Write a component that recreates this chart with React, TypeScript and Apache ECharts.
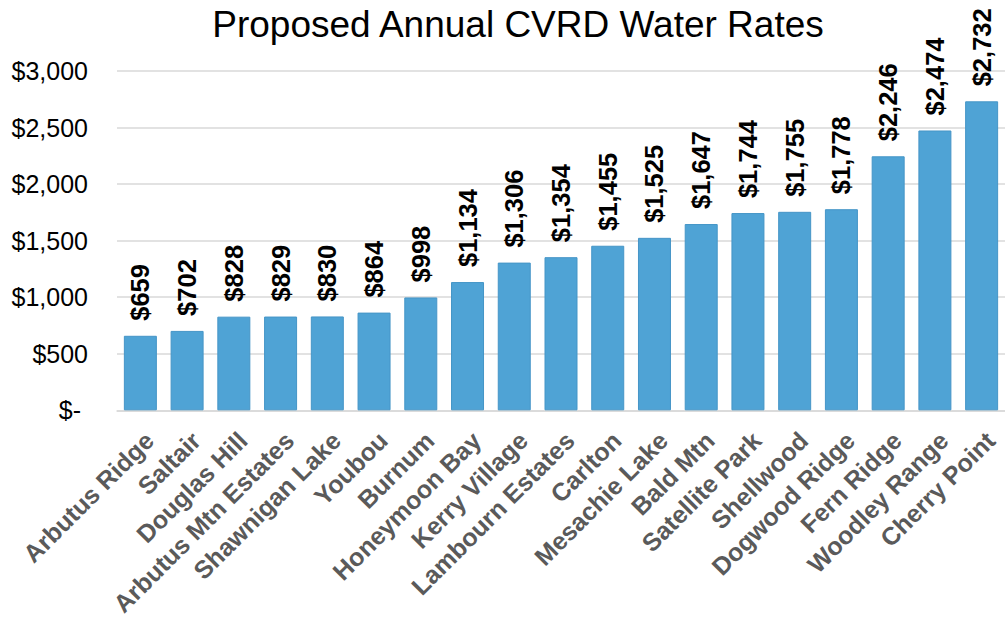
import React, { useEffect, useRef } from "react";
import * as echarts from "echarts";

const titleText = "Proposed Annual CVRD Water Rates";
const categories = [
  "Arbutus Ridge",
  "Saltair",
  "Douglas Hill",
  "Arbutus Mtn Estates",
  "Shawnigan Lake",
  "Youbou",
  "Burnum",
  "Honeymoon Bay",
  "Kerry Village",
  "Lambourn Estates",
  "Carlton",
  "Mesachie Lake",
  "Bald Mtn",
  "Satellite Park",
  "Shellwood",
  "Dogwood Ridge",
  "Fern Ridge",
  "Woodley Range",
  "Cherry Point",
];
const rates = [659, 702, 828, 829, 830, 864, 998, 1134, 1306, 1354, 1455, 1525, 1647, 1744, 1755, 1778, 2246, 2474, 2732];
const yMin = 0;
const yMax = 3000;
const yStep = 500;

const FONT = "'Liberation Sans', Arial, Helvetica, sans-serif";

const money = (v: number) => (v === 0 ? "$-\u00a0" : "$" + v.toLocaleString("en-US"));

export default function App() {
  const ref = useRef<HTMLDivElement>(null);
  useEffect(() => {
    if (!ref.current) return;
    const chart = echarts.init(ref.current, null, { renderer: "svg" });
    chart.setOption({
      animation: false,
      backgroundColor: "#ffffff",
      title: {
        text: titleText,
        left: 513,
        textAlign: "center",
        top: 1,
        textStyle: { fontFamily: FONT, fontSize: 37, fontWeight: "normal", color: "#000" },
      },
      grid: { left: 117, right: -6, top: 71, bottom: 208, containLabel: false },
      xAxis: {
        type: "category",
        data: categories,
        axisTick: { show: false },
        axisLine: { lineStyle: { color: "#d9d9d9", width: 1.5 } },
        axisLabel: {
          interval: 0,
          rotate: 45,
          margin: 17,
          verticalAlign: "top",
          fontFamily: FONT,
          fontSize: 25,
          fontWeight: "bold",
          color: "#5a5a5a",
        },
      },
      yAxis: {
        type: "value",
        min: yMin,
        max: yMax,
        interval: yStep,
        axisLine: { show: false },
        axisTick: { show: false },
        splitLine: { lineStyle: { color: "#d9d9d9", width: 1.5 } },
        axisLabel: {
          margin: 29,
          fontFamily: FONT,
          fontSize: 25,
          color: "#000",
          formatter: (v: number) => money(v),
        },
      },
      series: [
        {
          type: "bar",
          data: rates,
          barWidth: 33,
          itemStyle: { color: "#4FA3D5", borderColor: "#4595C7", borderWidth: 1 },
          label: {
            show: true,
            position: "top",
            rotate: 90,
            align: "left",
            verticalAlign: "middle",
            distance: 15,
            fontFamily: FONT,
            fontSize: 25.5,
            fontWeight: "bold",
            color: "#000",
            formatter: (p: any) => money(p.value),
          },
        },
      ],
    });
    return () => chart.dispose();
  }, []);
  return (
    <div
      style={{
        position: "fixed",
        left: 0,
        top: 0,
        width: 1005,
        height: 619,
        overflow: "hidden",
        background: "#fff",
      }}
    >
      <div ref={ref} style={{ width: 1005, height: 619, overflow: "hidden" }} />
    </div>
  );
}
